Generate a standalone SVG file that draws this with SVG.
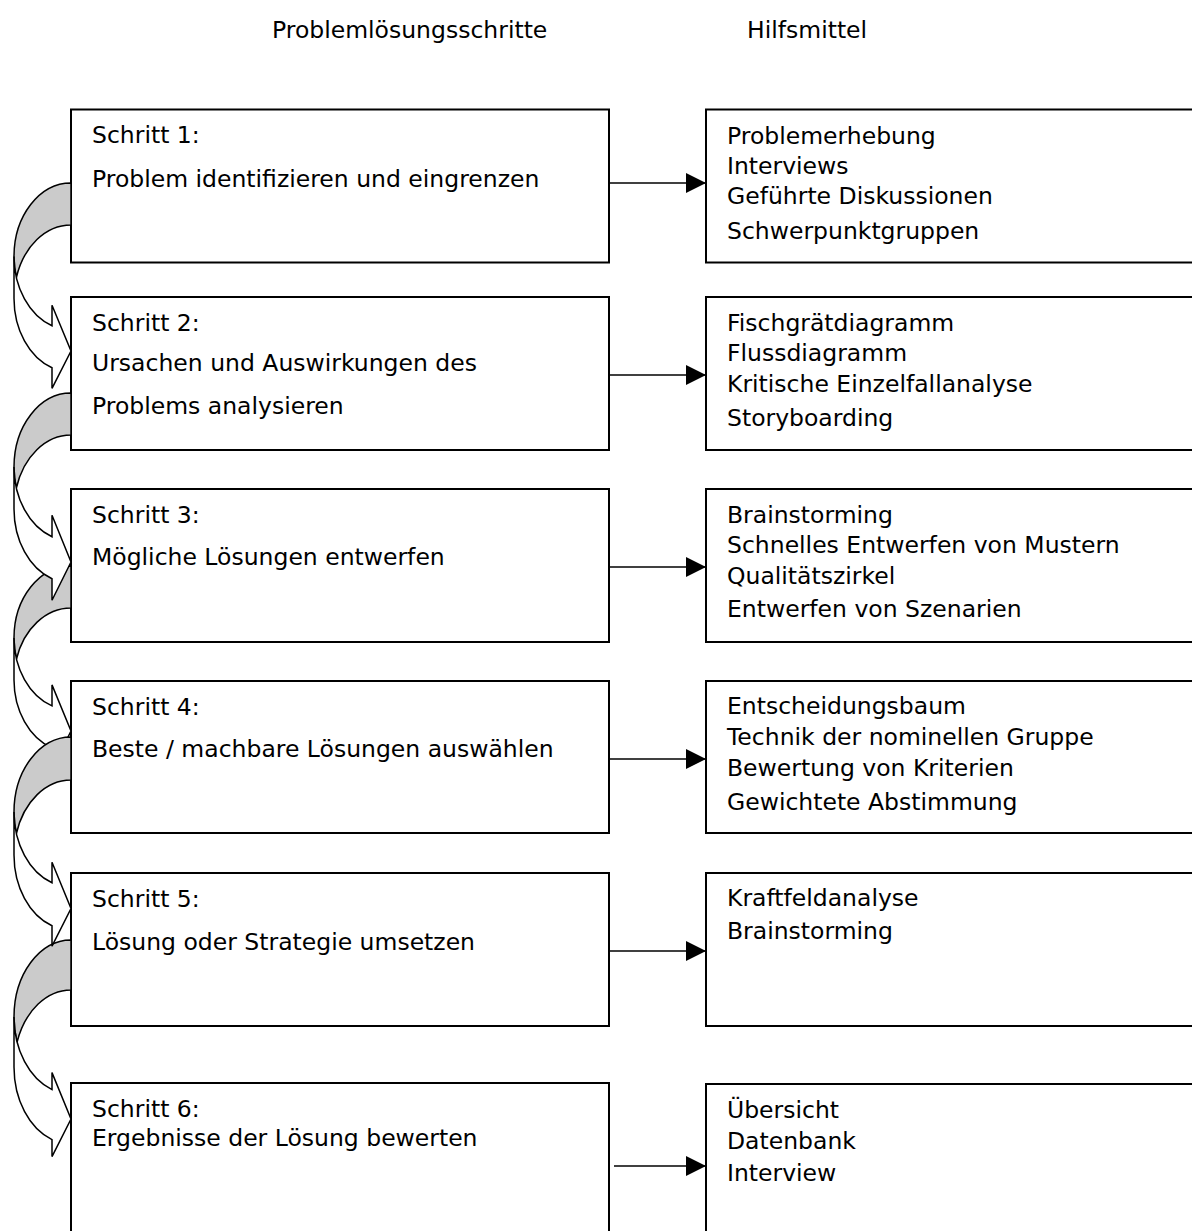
<svg xmlns="http://www.w3.org/2000/svg" width="1192" height="1231" viewBox="0 0 1192 1231">
  <style>
    text { font-family: "DejaVu Sans", Verdana, sans-serif; font-size: 23.5px; fill: #000; }
    .box { fill: #fff; stroke: #000; stroke-width: 2; }
    .link { stroke: #000; stroke-width: 1.6; fill: none; }
    .back { fill: #cbcbcb; stroke: #000; stroke-width: 1.5; stroke-linejoin: miter; }
    .front { fill: #fff; stroke: #000; stroke-width: 1.5; stroke-linejoin: miter; }
  </style>
  <defs>
    <marker id="head" markerUnits="userSpaceOnUse" markerWidth="20" markerHeight="20" refX="20" refY="10" orient="auto">
      <path d="M0,0 L20,10 L0,20 Z" fill="#000"/>
    </marker>
  </defs>
  <rect width="1192" height="1231" fill="#fff"/>

  <!-- column headings -->
  <text x="272" y="38">Problemlösungsschritte</text>
  <text x="747" y="38">Hilfsmittel</text>

  <!-- step boxes -->
  <g id="step1"><rect class="box" x="71" y="109.5" width="538" height="153"/>
    <text x="92" y="143">Schritt 1:</text>
    <text x="92" y="187">Problem identifizieren und eingrenzen</text></g>
  <g id="step2"><rect class="box" x="71" y="297" width="538" height="153"/>
    <text x="92" y="331">Schritt 2:</text>
    <text x="92" y="371">Ursachen und Auswirkungen des</text>
    <text x="92" y="414">Problems analysieren</text></g>
  <g id="step3"><rect class="box" x="71" y="489" width="538" height="153"/>
    <text x="92" y="523">Schritt 3:</text>
    <text x="92" y="565">Mögliche Lösungen entwerfen</text></g>
  <g id="step4"><rect class="box" x="71" y="681" width="538" height="152"/>
    <text x="92" y="715">Schritt 4:</text>
    <text x="92" y="757">Beste / machbare Lösungen auswählen</text></g>
  <g id="step5"><rect class="box" x="71" y="873" width="538" height="153"/>
    <text x="92" y="907">Schritt 5:</text>
    <text x="92" y="950">Lösung oder Strategie umsetzen</text></g>
  <g id="step6"><rect class="box" x="71" y="1083" width="538" height="170"/>
    <text x="92" y="1117">Schritt 6:</text>
    <text x="92" y="1146">Ergebnisse der Lösung bewerten</text></g>

  <!-- tool boxes -->
  <g id="tools1"><rect class="box" x="706" y="109.5" width="520" height="153"/>
    <text x="727" y="144">Problemerhebung</text>
    <text x="727" y="174">Interviews</text>
    <text x="727" y="204">Geführte Diskussionen</text>
    <text x="727" y="239">Schwerpunktgruppen</text></g>
  <g id="tools2"><rect class="box" x="706" y="297" width="520" height="153"/>
    <text x="727" y="331">Fischgrätdiagramm</text>
    <text x="727" y="361">Flussdiagramm</text>
    <text x="727" y="392">Kritische Einzelfallanalyse</text>
    <text x="727" y="426">Storyboarding</text></g>
  <g id="tools3"><rect class="box" x="706" y="489" width="520" height="153"/>
    <text x="727" y="523">Brainstorming</text>
    <text x="727" y="553">Schnelles Entwerfen von Mustern</text>
    <text x="727" y="584">Qualitätszirkel</text>
    <text x="727" y="617">Entwerfen von Szenarien</text></g>
  <g id="tools4"><rect class="box" x="706" y="681" width="520" height="152"/>
    <text x="727" y="714">Entscheidungsbaum</text>
    <text x="727" y="745">Technik der nominellen Gruppe</text>
    <text x="727" y="776">Bewertung von Kriterien</text>
    <text x="727" y="810">Gewichtete Abstimmung</text></g>
  <g id="tools5"><rect class="box" x="706" y="873" width="520" height="153"/>
    <text x="727" y="906">Kraftfeldanalyse</text>
    <text x="727" y="939">Brainstorming</text></g>
  <g id="tools6"><rect class="box" x="706" y="1084" width="520" height="170"/>
    <text x="727" y="1118">Übersicht</text>
    <text x="727" y="1149">Datenbank</text>
    <text x="727" y="1181">Interview</text></g>

  <!-- connectors: step -> tools, and curved step -> next step arrows -->
  <g id="connectors">
    <line class="link" x1="609" y1="183" x2="706" y2="183" marker-end="url(#head)"/>
    <line class="link" x1="609" y1="375" x2="706" y2="375" marker-end="url(#head)"/>
    <line class="link" x1="609" y1="567" x2="706" y2="567" marker-end="url(#head)"/>
    <line class="link" x1="609" y1="759" x2="706" y2="759" marker-end="url(#head)"/>
    <line class="link" x1="609" y1="951" x2="706" y2="951" marker-end="url(#head)"/>
    <line class="link" x1="614" y1="1166" x2="706" y2="1166" marker-end="url(#head)"/>

    <!-- curved arrows: shaded tail band + white front band with head -->
    <g id="curve3">
      <path class="back" d="M14,638 A57,72 0 0 1 71,566 L71,608 A57,72 0 0 0 16.48,659 A57,72 0 0 1 14,638 Z"/>
      <path class="front" d="M14,638 A57,72 0 0 0 52,705.88 L52,684.88 L71,731 L52,768.88 L52,747.88 A57,72 0 0 1 14,680 Z"/>
    </g>
    <g id="curve5">
      <path class="back" d="M14,1017 A57,77 0 0 1 71,940 L71,990 A57,77 0 0 0 17.09,1042 A57,77 0 0 1 14,1017 Z"/>
      <path class="front" d="M14,1017 A57,77 0 0 0 52,1089.6 L52,1072.6 L71,1119 L52,1156.6 L52,1139.6 A57,77 0 0 1 14,1067 Z"/>
    </g>
    <g id="curve2">
      <path class="back" d="M14,467 A57,74 0 0 1 71,393 L71,435 A57,74 0 0 0 16.34,488 A57,74 0 0 1 14,467 Z"/>
      <path class="front" d="M14,467 A57,74 0 0 0 52,536.77 L52,515.27 L71,562 L52,600.27 L52,578.77 A57,74 0 0 1 14,509 Z"/>
    </g>
    <g id="curve4">
      <path class="back" d="M14,812 A57,75 0 0 1 71,737 L71,780 A57,75 0 0 0 16.39,833.5 A57,75 0 0 1 14,812 Z"/>
      <path class="front" d="M14,812 A57,75 0 0 0 52,882.71 L52,862.21 L71,908.5 L52,946.21 L52,925.71 A57,75 0 0 1 14,855 Z"/>
    </g>
    <g id="curve1">
      <path class="back" d="M14,256.5 A57,73.5 0 0 1 71,183 L71,225 A57,73.5 0 0 0 16.38,277.5 A57,73.5 0 0 1 14,256.5 Z"/>
      <path class="front" d="M14,256.5 A57,73.5 0 0 0 52,325.8 L52,305.3 L71,351 L52,388.3 L52,367.8 A57,73.5 0 0 1 14,298.5 Z"/>
    </g>
  </g>
</svg>
